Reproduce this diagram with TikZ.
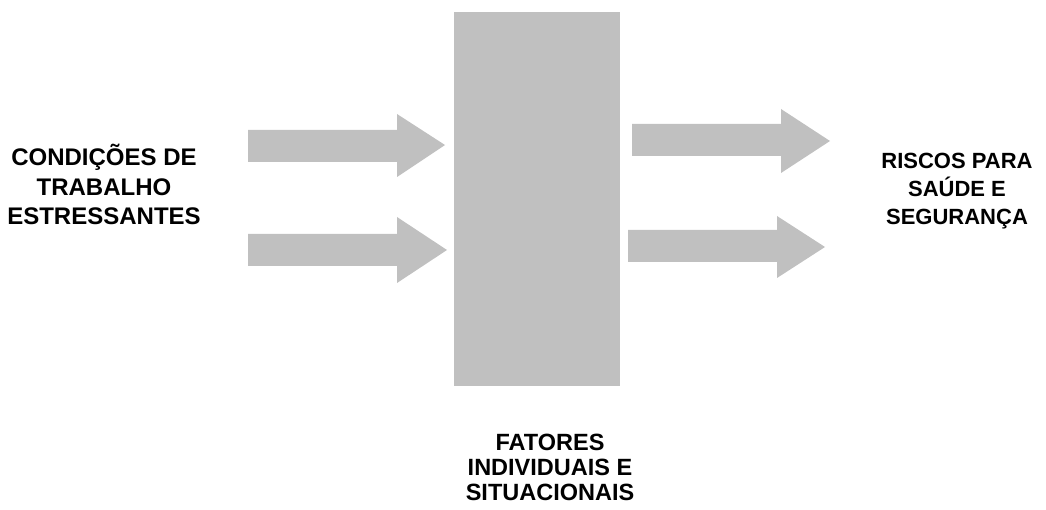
\documentclass[tikz,border=0pt]{standalone}
\usepackage{fontspec}
\setmainfont{Liberation Sans}
\begin{document}
\begin{tikzpicture}[x=1pt,y=-1pt,
  blockfill/.style={fill=silver,draw=none},
  label/.style={align=center,inner sep=0pt,anchor=base}]
\definecolor{silver}{HTML}{C0C0C0}
\useasboundingbox (0,0) rectangle (1046,510);
% central block
\node[blockfill,minimum width=166pt,minimum height=374pt,inner sep=0pt,anchor=north west] (box) at (454,12) {};
% incoming arrows
\fill[silver] (248,130) -- (397,130) -- (397,114) -- (445,145) -- (397,177) -- (397,162) -- (248,162) -- cycle;
\fill[silver] (248,234) -- (397,234) -- (397,217) -- (447,250) -- (397,283) -- (397,266) -- (248,266) -- cycle;
% outgoing arrows
\fill[silver] (632,124) -- (781,124) -- (781,109) -- (830,141) -- (781,173) -- (781,156) -- (632,156) -- cycle;
\fill[silver] (628,230) -- (777,230) -- (777,216) -- (825,247) -- (777,278) -- (777,262) -- (628,262) -- cycle;
% labels (anchored at the baseline of the last line)
\node[label,font=\bfseries\fontsize{24}{29.5}\selectfont] (cond) at (104,225) {CONDIÇÕES DE\\TRABALHO\\ESTRESSANTES};
\node[label,font=\bfseries\fontsize{22}{28}\selectfont] (risc) at (957,225) {RISCOS PARA\\SAÚDE E\\SEGURANÇA};
\node[label,font=\bfseries\fontsize{23.5}{25}\selectfont] (fat) at (550,500) {FATORES\\INDIVIDUAIS E\\SITUACIONAIS};
\end{tikzpicture}
\end{document}
